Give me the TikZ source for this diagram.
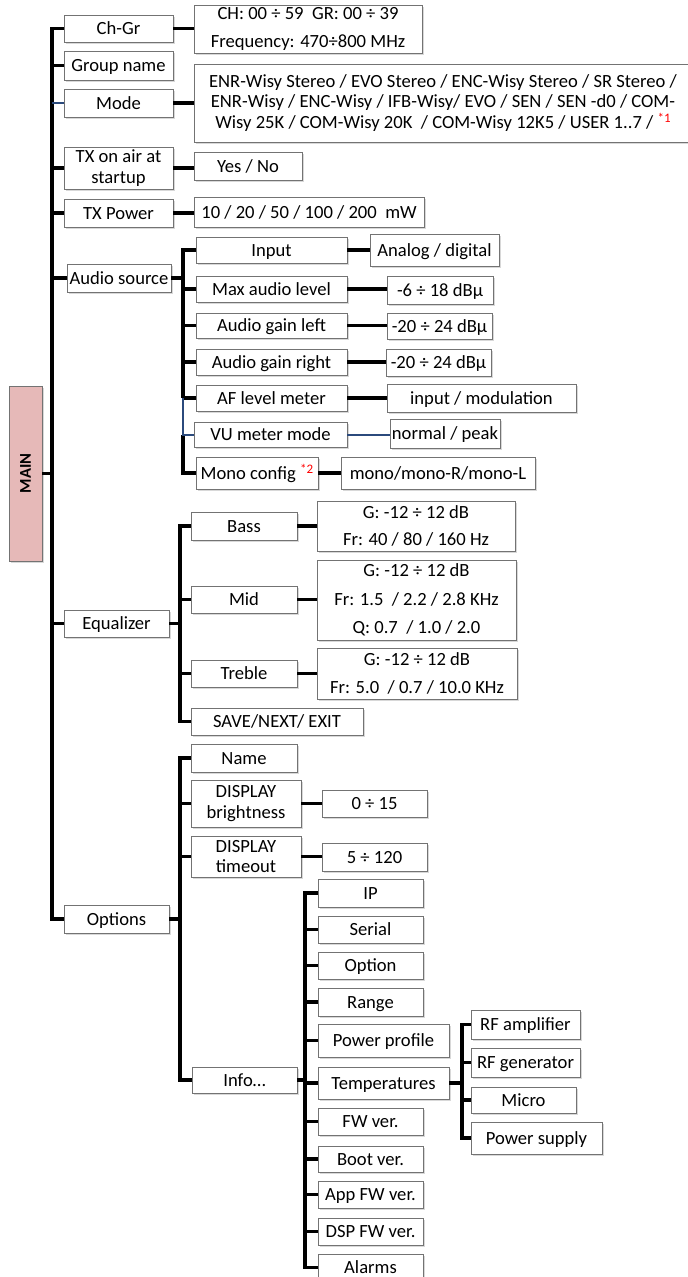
\documentclass[tikz,border=0pt]{standalone}
\usepackage{fontspec}
\setmainfont{Carlito}
\usetikzlibrary{shadows}
\definecolor{mainpink}{HTML}{E6B9B8}
\definecolor{linkblue}{HTML}{2B4A7C}
\newcommand\tightfont{\fontsize{18.6}{20.5}\selectfont}
\newcommand\airyfont{\fontsize{18.6}{27.5}\selectfont}
\newcommand\midfont{\fontsize{18.6}{28.5}\selectfont}
\newcommand\redmark[1]{\textcolor{red}{\raisebox{5.5pt}{\fontsize{13}{13}\selectfont *#1}}}
\tikzset{
 box/.style={draw=black!55, line width=0.9pt, fill=white, inner sep=0pt,
   text height=12pt, text depth=0pt,
   drop shadow={shadow xshift=1.6pt, shadow yshift=-2.2pt, fill=black!30}, font=\tightfont},
 mline/.style={align=center, text height=, text depth=},
 conn/.style={line width=3.6pt, black},
 blueconn/.style={line width=2pt, linkblue},
}
\newcommand\bx[7][]{\node[box,#1,minimum width={(#4-#2)*1pt},minimum height={(#5-#3)*1pt}] (#6) at ({(#2+#4)/2},{(#3+#5)/2}) {#7};}
\begin{document}
\begin{tikzpicture}[x=1pt,y=-1pt]
\useasboundingbox (0,0) rectangle (688,1277);
% MAIN
\bx[mline,fill=mainpink]{9}{386}{42}{561}{main}{\rotatebox{90}{\fontsize{16.5}{16.5}\selectfont\bfseries MAIN}}
% level 1
\bx{64}{15}{173}{42}{chgr}{Ch-Gr}
\bx{64}{51}{173}{80}{grp}{Group name}
\bx{64}{89}{173}{117}{mode}{Mode}
\bx[mline]{64}{147}{173}{189}{txair}{TX on air at\\startup}
\bx{64}{199}{173}{227}{txp}{TX Power}
\bx{67}{264}{171}{292}{asrc}{Audio source}
\bx{64}{610}{169}{637}{eq}{Equalizer}
\bx{64}{905}{169}{933}{opt}{Options}
% level 1 values
\bx[mline,font=\airyfont]{194}{5}{422}{53}{chgrv}{CH: 00 ÷ 59\ \ GR: 00 ÷ 39\\Frequency: 470÷800 MHz}
\bx[mline]{194}{64}{692}{142}{modev}{ENR-Wisy Stereo / EVO Stereo / ENC-Wisy Stereo / SR Stereo /\\ENR-Wisy / ENC-Wisy / IFB-Wisy/ EVO / SEN / SEN -d0 / COM-\\Wisy 25K / COM-Wisy 20K\ \ / COM-Wisy 12K5 / USER 1..7 / \redmark{1}}
\bx{194}{152}{302}{180}{yesno}{Yes / No}
\bx{194}{197}{424}{227}{txpv}{10 / 20 / 50 / 100 / 200\ \ mW}
% audio source
\bx{196}{237}{347}{263}{inp}{Input}
\bx{196}{276}{347}{302}{maxl}{Max audio level}
\bx{196}{313}{347}{338}{gl}{Audio gain left}
\bx{196}{349}{347}{375}{gr}{Audio gain right}
\bx{196}{385}{347}{411}{af}{AF level meter}
\bx{194}{422}{347}{447}{vu}{VU meter mode}
\bx{196}{457}{318}{489}{mono}{Mono config \redmark{2}}
\bx{370}{234}{499}{266}{anv}{Analog / digital}
\bx{387}{276}{493}{304}{maxv}{-6 ÷ 18 dBµ}
\bx{387}{313}{492}{339}{glv}{-20 ÷ 24 dBµ}
\bx{386}{349}{491}{376}{grv}{-20 ÷ 24 dBµ}
\bx{387}{384}{576}{412}{afv}{input / modulation}
\bx{390}{419}{500}{448}{vuv}{normal / peak}
\bx{341}{457}{535}{489}{monov}{mono/mono-R/mono-L}
% equalizer
\bx{191}{512}{297}{540}{bass}{Bass}
\bx{191}{586}{297}{613}{mid}{Mid}
\bx{191}{660}{297}{687}{treb}{Treble}
\bx{191}{708}{363}{735}{sne}{SAVE/NEXT/ EXIT}
\bx[mline,font=\airyfont]{317}{501}{515}{551}{bassv}{G: -12 ÷ 12 dB\\Fr: 40 / 80 / 160 Hz}
\bx[mline,font=\midfont]{317}{560}{516}{640}{midv}{G: -12 ÷ 12 dB\\Fr: 1.5\ \ / 2.2 / 2.8 KHz\\Q: 0.7\ \ / 1.0 / 2.0}
\bx[mline,font=\airyfont]{317}{648}{517}{699}{trebv}{G: -12 ÷ 12 dB\\Fr: 5.0\ \ / 0.7 / 10.0 KHz}
% options
\bx{191}{744}{297}{772}{name}{Name}
\bx[mline]{191}{780}{301}{827}{dbr}{DISPLAY\\brightness}
\bx[mline]{191}{836}{301}{877}{dto}{DISPLAY\\timeout}
\bx{322}{790}{427}{817}{dbrv}{0 ÷ 15}
\bx{322}{843}{427}{871}{dtov}{5 ÷ 120}
\bx{192}{1067}{297}{1093}{info}{Info…}
% info
\bx{318}{879}{423}{907}{ip}{IP}
\bx{318}{916}{423}{943}{ser}{Serial}
\bx{318}{952}{423}{979}{optn}{Option}
\bx{318}{988}{423}{1016}{rng}{Range}
\bx{318}{1024}{449}{1057}{pp}{Power profile}
\bx{318}{1067}{449}{1099}{temp}{Temperatures}
\bx{318}{1108}{423}{1135}{fw}{FW ver.}
\bx{318}{1146}{423}{1172}{boot}{Boot ver.}
\bx{318}{1181}{423}{1208}{app}{App FW ver.}
\bx{318}{1218}{423}{1245}{dsp}{DSP FW ver.}
\bx{318}{1254}{423}{1281}{alarm}{Alarms}
% temperatures
\bx{471}{1010}{580}{1039}{rfa}{RF amplifier}
\bx{471}{1048}{580}{1077}{rfg}{RF generator}
\bx{471}{1087}{576}{1113}{micro}{Micro}
\bx{471}{1122}{602}{1154}{psu}{Power supply}
% trunk coordinates
\coordinate (mt) at (52,0);
\coordinate (at) at (183,0);
\coordinate (et) at (180,0);
\coordinate (ot) at (180,0);
\coordinate (it) at (305,0);
\coordinate (tt) at (462,0);
% main trunk
\draw[conn] (chgr.west) -| (mt |- opt.west) -- (opt.west);
\foreach \n in {grp,txair,txp,asrc,eq} \draw[conn] (\n.west) -- (\n.west -| mt);
\draw[blueconn] (mode.west) -- (mode.west -| mt);
\draw[conn] (main.east) -- (main.east -| mt);
% level 1 value links
\foreach \a/\b in {chgr/chgrv,mode/modev,txair/yesno,txp/txpv}
  \draw[conn] (\a.east) -- (\a.east -| \b.west);
% audio source trunk
\draw[conn] (asrc.east) -- (asrc.east -| at);
\draw[conn] (inp.west) -| (at |- af.west);
\foreach \n in {maxl,gl,gr,af} \draw[conn] (\n.west) -- (\n.west -| at);
\draw[conn] (at |- vu.west) -- (at |- mono.west) -- (mono.west);
\draw[blueconn] (at |- af.west) -- (at |- vu.west) -- (vu.west);
\foreach \a/\b in {inp/anv,maxl/maxv,gl/glv,gr/grv,af/afv,mono/monov}
  \draw[conn] (\a.east) -- (\a.east -| \b.west);
\draw[blueconn] (vu.east) -- (vu.east -| vuv.west);
% equalizer trunk
\draw[conn] (eq.east) -- (eq.east -| et);
\draw[conn] (bass.west) -| (et |- sne.west) -- (sne.west);
\foreach \n in {mid,treb} \draw[conn] (\n.west) -- (\n.west -| et);
\foreach \a/\b in {bass/bassv,mid/midv,treb/trebv}
  \draw[conn] (\a.east) -- (\a.east -| \b.west);
% options trunk
\draw[conn] (opt.east) -- (opt.east -| ot);
\draw[conn] (name.west) -| (ot |- info.west) -- (info.west);
\foreach \n in {dbr,dto} \draw[conn] (\n.west) -- (\n.west -| ot);
\foreach \a/\b in {dbr/dbrv,dto/dtov}
  \draw[conn] (\a.east) -- (\a.east -| \b.west);
% info trunk
\draw[conn] (info.east) -- (info.east -| it);
\draw[conn] (ip.west) -| (it |- alarm.west) -- (alarm.west);
\foreach \n in {ser,optn,rng,pp,temp,fw,boot,app,dsp} \draw[conn] (\n.west) -- (\n.west -| it);
% temperatures trunk
\draw[conn] (temp.east) -- (temp.east -| tt);
\draw[conn] (rfa.west) -| (tt |- psu.west) -- (psu.west);
\foreach \n in {rfg,micro} \draw[conn] (\n.west) -- (\n.west -| tt);
\end{tikzpicture}
\end{document}
